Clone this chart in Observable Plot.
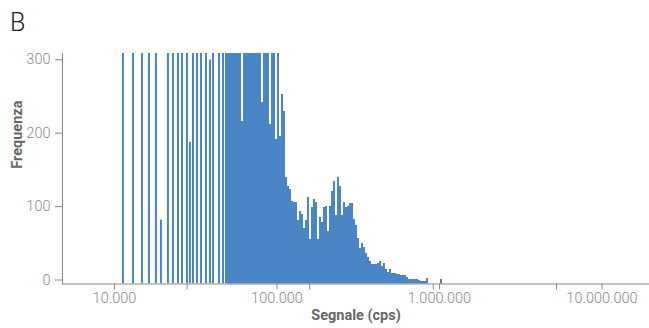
<!DOCTYPE html>
<html><head><meta charset="utf-8">
<script src="https://cdn.jsdelivr.net/npm/d3@7"></script>
<script src="https://cdn.jsdelivr.net/npm/@observablehq/plot@0.6"></script>
<style>
body{margin:0;background:#fff;}
#wrap{position:relative;width:649px;height:328px;}
#title{position:absolute;left:10px;top:10px;font-size:25px;line-height:1;font-family:Roboto,sans-serif;font-weight:300;color:#222;}
</style></head><body>
<div id="wrap"><div id="title">B</div></div>
<script>
// isolated spikes (cps) and their frequencies (values above 314 are cut by the frame)
const spikeSignal = [11360, 13090, 14870, 16420, 18130, 19460, 21490, 23070, 24770, 26210, 28140, 29360, 30640, 32420, 34300, 36830, 38980, 40670, 44290, 46870, 48900];
const spikeFreq   = [380, 420, 450, 400, 470, 87, 430, 480, 460, 500, 520, 193, 490, 510, 470, 530, 305, 520, 540, 560, 380];
// contiguous histogram (log bins) starting at histStart cps
const histStart = 50300;
const binsPerDecade = 81;
const histFreq = [
  360, 410, 450, 470, 500, 520, 540, 222, 560, 550,
  570, 560, 540, 530, 520, 490, 470, 247, 440, 420,
  400, 217, 370, 350, 197, 330, 201, 258, 235, 145,
  133, 129, 113, 111, 111, 86, 99, 95, 75, 86,
  118, 61, 104, 115, 111, 61, 91, 84, 104, 106,
  72, 106, 126, 140, 93, 145, 133, 93, 111, 104,
  106, 109, 109, 88, 80, 62, 48, 55, 50, 42,
  36, 30, 27, 27, 27, 28, 30, 24, 28, 20,
  16, 20, 14, 14, 13, 13, 12, 12, 12, 9,
  6, 6, 6, 6, 6, 5, 4, 4, 4, 7,
  0, 0, 0, 0, 0, 0, 6
];
const yTicks = [0, 100, 200, 300];
const xTicks = [10000, 100000, 1000000, 10000000];
const xTickLabels = ["10.000", "100.000", "1.000.000", "10.000.000"];
const xMinorTicks = [28000, 159000, 915000, 5250000];
const xTitle = "Segnale (cps)";
const yTitle = "Frequenza";

const spikes = spikeSignal.map((s, i) => ({s, f: spikeFreq[i]}));
const hist = histFreq.map((f, i) => ({s: histStart * Math.pow(10, i / binsPerDecade), f}));
const half = Math.pow(10, 0.5 / binsPerDecade);
const labelOf = new Map(xTicks.map((t, i) => [t, xTickLabels[i]]));
const blue = "#4a86c6";

const chart = Plot.plot({
  width: 649, height: 328,
  marginLeft: 62, marginRight: 0, marginTop: 53, marginBottom: 44.5,
  x: {type: "log", domain: [4790, 1.96e7]},
  y: {domain: [0, 314]},
  style: {fontFamily: "Roboto, sans-serif", fontSize: "14.5px", fontWeight: 300, color: "#8a8a8a", background: "#fff"},
  marks: [
    Plot.rectY(spikes, {x1: d => d.s / half, x2: d => d.s * half, y1: 0, y2: "f", fill: blue, clip: true, inset: 0}),
    Plot.rectY(hist, {x1: d => d.s / half, x2: d => d.s * half, y1: 0, y2: "f", fill: blue, clip: true, inset: 0, shapeRendering: "crispEdges"}),
    Plot.frame({anchor: "left", stroke: "#888"}),
    Plot.ruleY([0], {stroke: "#888"}),
    Plot.axisY({ticks: yTicks, tickSize: 7, tickPadding: 5, dy: -4, stroke: "#888", fill: "#8a8a8a", label: null}),
    Plot.axisX({ticks: xTicks, tickFormat: d => labelOf.get(d), tickSize: 6, tickPadding: 3, stroke: "#888", fill: "#8a8a8a", label: null}),
    Plot.axisX({ticks: xMinorTicks, tickFormat: () => "", tickSize: 6, stroke: "#888", label: null}),
    Plot.text([yTitle], {frameAnchor: "left", dx: -45, rotate: -90, fontWeight: "bold", fill: "#666", fontSize: 14.5}),
    Plot.text([xTitle], {frameAnchor: "bottom", dy: 35.5, fontWeight: "bold", fill: "#666", fontSize: 14.5})
  ]
});
document.getElementById("wrap").prepend(chart);
</script>
</body></html>
